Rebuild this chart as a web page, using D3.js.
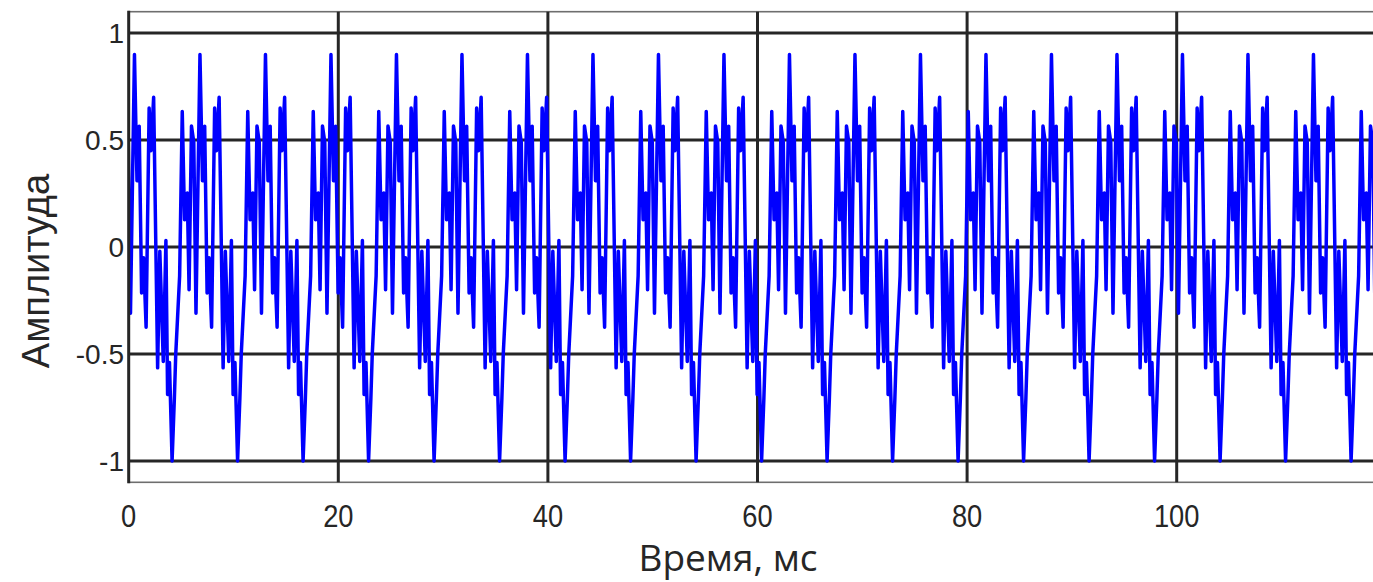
<!DOCTYPE html>
<html>
<head>
<meta charset="utf-8">
<script src="https://cdn.jsdelivr.net/npm/d3@7"></script>
<style>
    html, body { margin: 0; padding: 0; background: #fff; overflow: hidden; }
</style>
</head>
<body>
<div id="chart"></div>
<script>
// One period of the signal: vertex time inside the period (ms) and amplitude
const periodOffsets = [0.00, 0.24, 0.45, 0.68, 0.87, 1.11, 1.40, 1.57, 1.83, 2.21, 2.42, 2.75, 3.00,
    3.16, 3.34, 3.59, 3.81, 3.94, 4.31, 4.56, 4.78, 5.04, 5.21, 5.44, 5.66, 5.87];
const periodValues = [0.90, 0.31, 0.565, -0.215, -0.05, -0.375, 0.65, 0.45, 0.70, -0.565, -0.02, -0.535, 0.03,
    -0.69, -0.54, -1.00, -0.705, -0.50, -0.135, 0.633, 0.127, 0.252, -0.20, 0.566, 0.49, -0.31];
const periodLength = 6.25;   // ms, the waveform repeats every period
const firstPeak = 0.55;      // ms, where the first period starts

const xTicks = [0, 20, 40, 60, 80, 100];
const yTicks = [1, 0.5, 0, -0.5, -1];
const yTickLabels = ["1", "0.5", "0", "-0.5", "-1"];

const xLabel = "Время, мс";
const yLabel = "Амплитуда";

// repeat the read period over the time axis
let signal = [];
for (let n = -1; n * periodLength + firstPeak < 121; n++) {
    periodOffsets.forEach((off, i) => {
        signal.push({t: firstPeak + n * periodLength + off, v: periodValues[i]});
    });
}

const width = 1373, height = 582;
const margin = {left: 128.7, top: 11.7};
const plotW = 1257.6, plotH = 470.6;

const svg = d3.select("#chart").append("svg")
    .attr("width", width)
    .attr("height", height);

const x = d3.scaleLinear().domain([0, 120]).range([margin.left, margin.left + plotW]);
const y = d3.scaleLinear().domain([-1.1, 1.1]).range([margin.top + plotH, margin.top]);

svg.append("defs").append("clipPath").attr("id", "plotClip")
    .append("rect")
    .attr("x", margin.left).attr("y", margin.top)
    .attr("width", plotW).attr("height", plotH);

// frame (top and bottom thin grey)
svg.append("rect")
    .attr("x", margin.left).attr("y", margin.top)
    .attr("width", plotW).attr("height", plotH)
    .attr("fill", "none")
    .attr("stroke", "#6e6e6e")
    .attr("stroke-width", 1.6);

// grid
svg.append("g").selectAll("line.vgrid")
    .data(xTicks.filter(d => d > 0))
    .enter().append("line")
    .attr("x1", d => x(d)).attr("x2", d => x(d))
    .attr("y1", margin.top).attr("y2", margin.top + plotH)
    .attr("stroke", "#262626")
    .attr("stroke-width", 3);

svg.append("g").selectAll("line.hgrid")
    .data(yTicks)
    .enter().append("line")
    .attr("x1", margin.left).attr("x2", margin.left + plotW)
    .attr("y1", d => y(d)).attr("y2", d => y(d))
    .attr("stroke", "#262626")
    .attr("stroke-width", 3);

// signal
const line = d3.line().x(d => x(d.t)).y(d => y(d.v));
svg.append("path")
    .datum(signal)
    .attr("clip-path", "url(#plotClip)")
    .attr("d", line)
    .attr("fill", "none")
    .attr("stroke", "#0000ff")
    .attr("stroke-width", 3.5)
    .attr("stroke-linejoin", "round");

// left axis line
svg.append("line")
    .attr("x1", margin.left).attr("x2", margin.left)
    .attr("y1", margin.top - 1).attr("y2", margin.top + plotH + 1)
    .attr("stroke", "#262626")
    .attr("stroke-width", 3);

// tick labels
svg.append("g").selectAll("text")
    .data(yTicks)
    .enter().append("text")
    .attr("x", 124)
    .attr("y", d => y(d))
    .attr("dy", "0.36em")
    .attr("text-anchor", "end")
    .attr("font-family", "'Liberation Sans', Arial, sans-serif")
    .attr("font-size", 28)
    .attr("fill", "#262626")
    .text((d, i) => yTickLabels[i]);

svg.append("g").selectAll("text")
    .data(xTicks)
    .enter().append("text")
    .attr("transform", d => `translate(${x(d)}, 527) scale(0.88, 1)`)
    .attr("text-anchor", "middle")
    .attr("font-family", "'Liberation Sans', Arial, sans-serif")
    .attr("font-size", 31)
    .attr("fill", "#262626")
    .text(d => d);

// axis titles
svg.append("text")
    .attr("x", 728)
    .attr("y", 571)
    .attr("text-anchor", "middle")
    .attr("font-family", "'Open Sans', sans-serif")
    .attr("font-size", 37)
    .attr("fill", "#262626")
    .text(xLabel);

svg.append("text")
    .attr("transform", "translate(49, 271) rotate(-90)")
    .attr("text-anchor", "middle")
    .attr("font-family", "'Liberation Sans', Arial, sans-serif")
    .attr("font-size", 38)
    .attr("fill", "#262626")
    .text(yLabel);
</script>
</body>
</html>
